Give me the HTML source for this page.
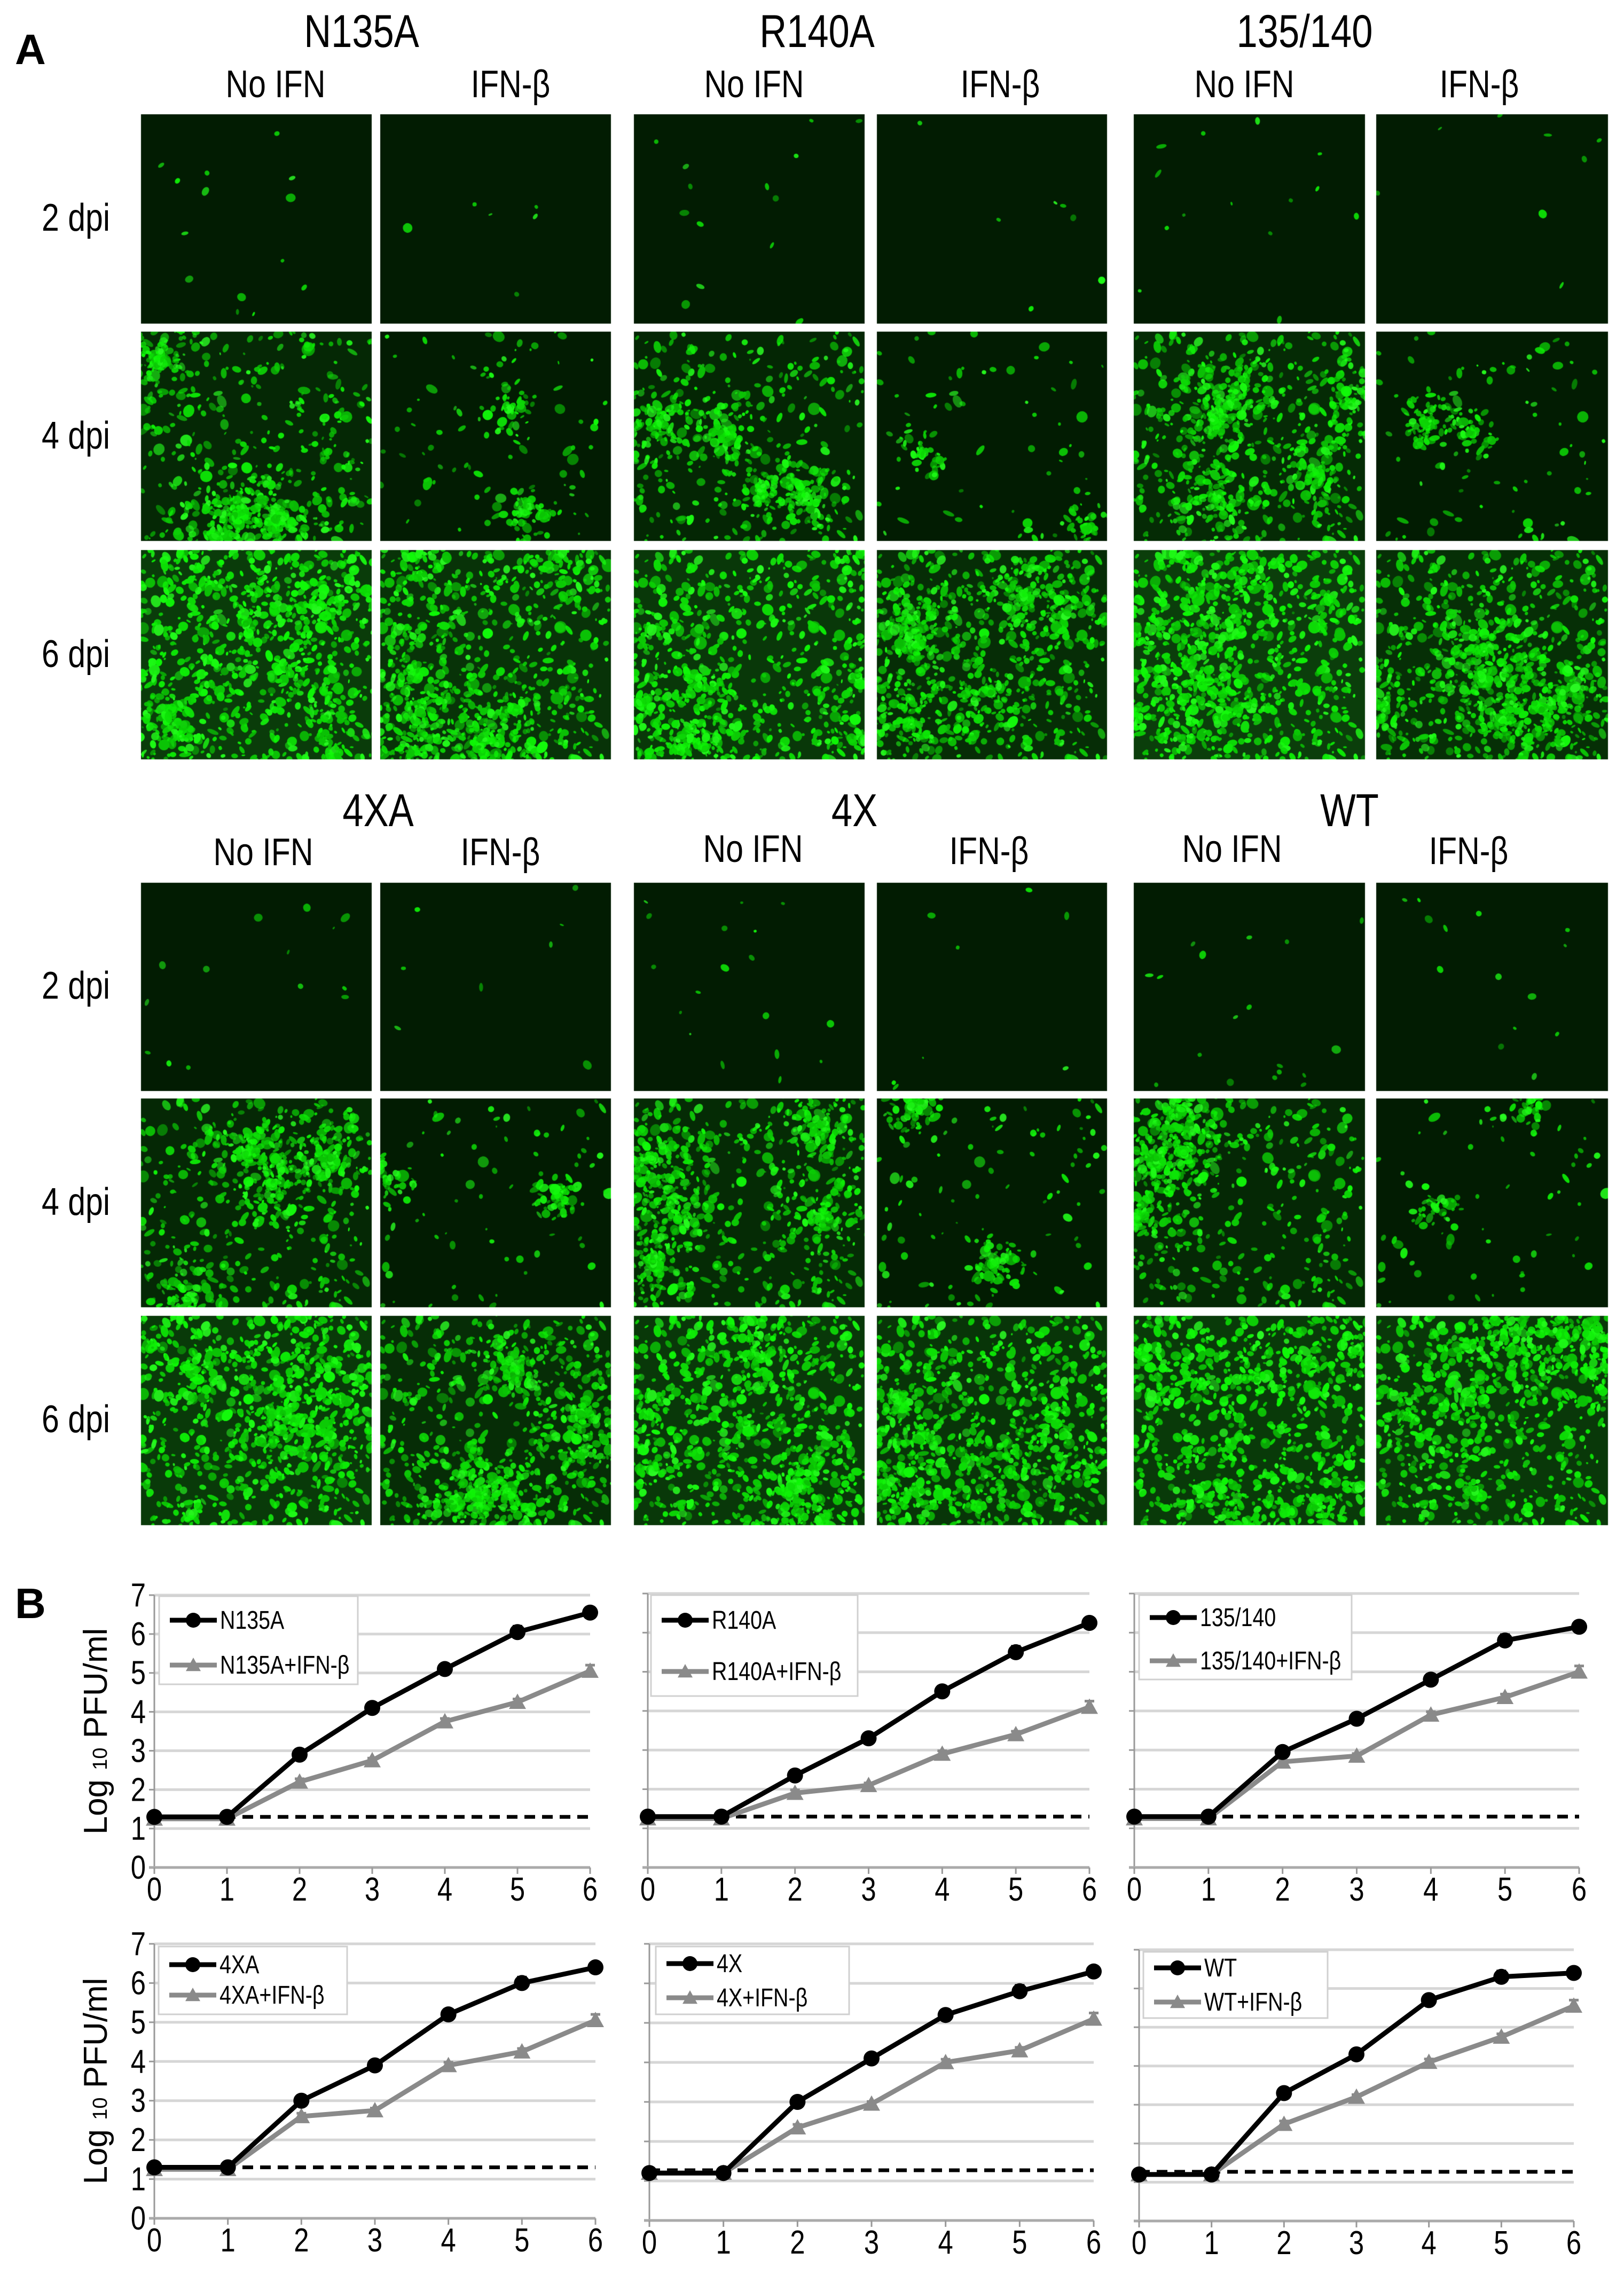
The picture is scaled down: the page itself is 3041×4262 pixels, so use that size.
<!DOCTYPE html>
<html><head><meta charset="utf-8"><style>
html,body{margin:0;padding:0;background:#fff;}
#wrap{position:relative;width:3041px;height:4262px;overflow:hidden;}
canvas,svg{position:absolute;left:0;top:0;}
text{font-family:"Liberation Sans",Arial,sans-serif;}
</style></head><body>
<div id="wrap">
<canvas id="micro" width="3041" height="4262"></canvas>
<svg id="fig" width="3041" height="4262" viewBox="0 0 3041 4262">
<text x="28" y="120" font-size="80" font-weight="bold">A</text>
<text x="28" y="3030" font-size="80" font-weight="bold">B</text>
<g font-size="86" text-anchor="middle">
<text class="nar" x="677" y="88">N135A</text>
<text class="nar" x="1530" y="88">R140A</text>
<text class="nar" x="2443" y="88">135/140</text>
<text class="nar" x="708" y="1547">4XA</text>
<text class="nar" x="1600" y="1547">4X</text>
<text class="nar" x="2527" y="1547">WT</text>
</g>
<g font-size="72" text-anchor="middle">
<text class="nar" x="516" y="182">No IFN</text>
<text class="nar" x="956" y="182">IFN-β</text>
<text class="nar" x="1412" y="182">No IFN</text>
<text class="nar" x="1873" y="182">IFN-β</text>
<text class="nar" x="2330" y="182">No IFN</text>
<text class="nar" x="2770" y="182">IFN-β</text>
<text class="nar" x="493" y="1620">No IFN</text>
<text class="nar" x="937" y="1620">IFN-β</text>
<text class="nar" x="1410" y="1614">No IFN</text>
<text class="nar" x="1852" y="1618">IFN-β</text>
<text class="nar" x="2307" y="1614">No IFN</text>
<text class="nar" x="2750" y="1618">IFN-β</text>
</g>
<g font-size="72">
<text class="nar" x="78" y="432">2 dpi</text>
<text class="nar" x="78" y="840">4 dpi</text>
<text class="nar" x="78" y="1249">6 dpi</text>
<text class="nar" x="78" y="1870">2 dpi</text>
<text class="nar" x="78" y="2275">4 dpi</text>
<text class="nar" x="78" y="2682">6 dpi</text>
</g>
<g id="charts"></g>
</svg>
</div>
<script>
// ---------- Chart data ----------
const days = [0, 1, 2, 3, 4, 5, 6];
const yTicks = [0, 1, 2, 3, 4, 5, 6, 7];
const chartNames = ["N135A", "R140A", "135/140", "4XA", "4X", "WT"];
const noIfnN135A = [1.3, 1.3, 2.9, 4.1, 5.1, 6.05, 6.55];
const ifnN135A   = [1.25, 1.25, 2.2, 2.75, 3.75, 4.25, 5.05];
const noIfnR140A = [1.3, 1.3, 2.35, 3.3, 4.5, 5.5, 6.25];
const ifnR140A   = [1.25, 1.25, 1.9, 2.1, 2.9, 3.4, 4.1];
const noIfn135140 = [1.3, 1.3, 2.95, 3.8, 4.8, 5.8, 6.15];
const ifn135140   = [1.25, 1.25, 2.7, 2.85, 3.9, 4.35, 5.0];
const noIfn4XA = [1.3, 1.3, 3.0, 3.9, 5.2, 6.0, 6.4];
const ifn4XA   = [1.25, 1.25, 2.6, 2.75, 3.9, 4.25, 5.05];
const noIfn4X = [1.2, 1.2, 3.0, 4.1, 5.2, 5.8, 6.3];
const ifn4X   = [1.2, 1.2, 2.35, 2.95, 4.0, 4.3, 5.1];
const noIfnWT = [1.2, 1.2, 3.3, 4.3, 5.7, 6.3, 6.4];
const ifnWT   = [1.2, 1.2, 2.5, 3.2, 4.1, 4.75, 5.55];
const errNoIfn = [0, 0, 0.08, 0.08, 0.1, 0.15, 0.12];
const errIfn   = [0, 0, 0.08, 0.06, 0.08, 0.08, 0.15];
const detectionLimit = [1.3, 1.3, 1.3, 1.3, 1.27, 1.27];

const seriesNoIfn = [noIfnN135A, noIfnR140A, noIfn135140, noIfn4XA, noIfn4X, noIfnWT];
const seriesIfn = [ifnN135A, ifnR140A, ifn135140, ifn4XA, ifn4X, ifnWT];

// geometry (layout only)
const geom = [
  {x0:289,x1:1105,yT:2987,yB:3497,lg:[298,2989,372,165,3034,3118],ylab:true},
  {x0:1213,x1:2040,yT:2984,yB:3497,lg:[1219,2987,387,189,3034,3130],ylab:false},
  {x0:2124,x1:2957,yT:2984,yB:3497,lg:[2133,2987,398,158,3029,3110],ylab:false},
  {x0:289,x1:1115,yT:3640,yB:4154,lg:[297,3645,353,127,3679,3736],ylab:true},
  {x0:1216,x1:2048,yT:3640,yB:4158,lg:[1228,3645,362,127,3677,3741],ylab:false},
  {x0:2133,x1:2947,yT:3651,yB:4159,lg:[2141,3655,345,124,3685,3749],ylab:false}
];

const NS = "http://www.w3.org/2000/svg";
function mk(tag, attrs, parent) {
  const e = document.createElementNS(NS, tag);
  for (const k in attrs) e.setAttribute(k, attrs[k]);
  parent.appendChild(e);
  return e;
}
function narrow(el, f) {
  const x = +el.getAttribute("x"), y = +el.getAttribute("y");
  el.setAttribute("transform", `translate(${x},${y}) scale(${f},1) translate(${-x},${-y})`);
}
document.querySelectorAll("text.nar").forEach(t => narrow(t, 0.82));
const root = document.getElementById("charts");

function tri(g, cx, cy, s, fill) {
  return mk("polygon", {points:`${cx},${cy-s} ${cx+s},${cy+s*0.8} ${cx-s},${cy+s*0.8}`, fill:fill}, g);
}

geom.forEach((G, ci) => {
  const g = mk("g", {}, root);
  
  
  const xs = d => G.x0 + (d - days[0]) / (days[days.length-1] - days[0]) * (G.x1 - G.x0);
  const ys = v => G.yB - (v - yTicks[0]) / (yTicks[yTicks.length-1] - yTicks[0]) * (G.yB - G.yT);
  yTicks.forEach(t => {
    if (t === 0) return;
    const l = mk("line", {x1:G.x0, x2:G.x1, y1:ys(t), y2:ys(t), stroke:"#d6d6d6", "stroke-width":5}, g);
    
    
    const tk = mk("line", {x1:G.x0-10, x2:G.x0, y1:ys(t), y2:ys(t), stroke:"#999", "stroke-width":3}, g);
    
    
  });
  const ya = mk("line", {x1:G.x0, x2:G.x0, y1:G.yT, y2:G.yB, stroke:"#999", "stroke-width":3}, g);
  
  
  const xa = mk("line", {x1:G.x0-10, x2:G.x1, y1:G.yB, y2:G.yB, stroke:"#aaa", "stroke-width":5}, g);
  
  
  days.forEach(d => {
    const t = mk("line", {x1:xs(d), x2:xs(d), y1:G.yB, y2:G.yB+12, stroke:"#999", "stroke-width":3}, g);
    
    
    const lab = mk("text", {x:xs(d), y:G.yB+62, "font-size":62, "text-anchor":"middle"}, g);
    lab.textContent = String(d);
    narrow(lab, 0.82);
    
    
  });
  if (G.ylab) {
    yTicks.forEach(t => {
      const lab = mk("text", {x:G.x0-16, y:ys(t)+21, "font-size":62, "text-anchor":"end"}, g);
      lab.textContent = String(t);
      narrow(lab, 0.82);
      
      
    });
    const cy = (G.yT + G.yB) / 2;
    const tt = mk("text", {x:0, y:0, "font-size":62, "text-anchor":"middle", transform:`translate(200,${cy}) rotate(-90)`}, g);
    
    
    tt.innerHTML = 'Log <tspan font-size="38">10</tspan> PFU/ml';
  }
  const dl = mk("line", {x1:G.x0, x2:G.x1, y1:ys(detectionLimit[ci]), y2:ys(detectionLimit[ci]), stroke:"#000", "stroke-width":7, "stroke-dasharray":"20 13"}, g);
  
  
  const drawSeries = (vals, errs, color, marker, name) => {
    const sg = mk("g", {}, g);
    
    
    const pl = mk("polyline", {points: vals.map((v,i)=>`${xs(days[i])},${ys(v)}`).join(" "), fill:"none", stroke:color, "stroke-width":9, "stroke-linejoin":"round"}, sg);
    
    
    vals.forEach((v,i) => {
      if (errs[i] > 0) {
        const eb = mk("path", {d:`M${xs(days[i])},${ys(v)} V${ys(v+errs[i])} M${xs(days[i])-9},${ys(v+errs[i])} H${xs(days[i])+9}`, stroke:color, "stroke-width":5, fill:"none"}, sg);
        
        
      }
      const m = marker === "circle"
        ? mk("circle", {cx:xs(days[i]), cy:ys(v), r:15, fill:color}, sg)
        : tri(sg, xs(days[i]), ys(v), 16, color);
      
      
    });
  };
  drawSeries(seriesIfn[ci], errIfn, "#8a8a8a", "tri", "series-ifn-beta");
  drawSeries(seriesNoIfn[ci], errNoIfn, "#000", "circle", "series-no-ifn");
  const [bx, by, bw, bh, e1, e2] = G.lg;
  const lgg = mk("g", {}, g);
  
  
  mk("rect", {x:bx, y:by, width:bw, height:bh, fill:"#fff", stroke:"#d0d0d0", "stroke-width":3}, lgg);
  [[e1, "#000", "circle", chartNames[ci]], [e2, "#8a8a8a", "tri", chartNames[ci] + "+IFN-β"]].forEach(([ey, c, mkType, label]) => {
    const eg = mk("g", {}, lgg);
    
    
    mk("line", {x1:bx+20, x2:bx+108, y1:ey, y2:ey, stroke:c, "stroke-width":9}, eg);
    if (mkType === "circle") mk("circle", {cx:bx+64, cy:ey, r:14, fill:c}, eg);
    else tri(eg, bx+64, ey, 14, c);
    const t = mk("text", {x:bx+114, y:ey+16, "font-size":48}, eg);
    t.textContent = label;
    narrow(t, 0.82);
  });
});

// ---------- Micrograph panels (texture) ----------
const cv = document.getElementById("micro");
const ctx = cv.getContext("2d");
const colsX = [[264,696],[712,1144],[1187,1619],[1642,2073],[2123,2556],[2577,3011]];
const rowsTop = [[214,606],[621,1013],[1030,1422]];
const rowsBot = [[1653,2043],[2057,2448],[2464,2856]];
const densTop = [[0.02,0.008,0.02,0.01,0.02,0.012],[0.3,0.08,0.25,0.06,0.35,0.08],[0.75,0.55,0.65,0.4,0.8,0.45]];
const densBot = [[0.02,0.012,0.025,0.012,0.025,0.02],[0.3,0.07,0.35,0.1,0.3,0.06],[0.7,0.4,0.65,0.6,0.7,0.65]];
let seed = 12345;
function rnd(){ seed = (seed * 1103515245 + 12345) % 2147483648; return seed / 2147483648; }
function blob(cx,cy,r){
  const l = 38 + rnd()*18;
  ctx.fillStyle = `hsla(118,95%,${l}%,${0.5+rnd()*0.5})`;
  ctx.beginPath();
  ctx.ellipse(cx,cy,r*(0.5+rnd()),r*(0.5+rnd()),rnd()*3.14,0,6.283);
  ctx.fill();
}
function panel(x0,y0,x1,y1,d){
  const w=x1-x0,h=y1-y0;
  ctx.fillStyle = "#021c02";
  ctx.fillRect(x0,y0,w,h);
  ctx.save();
  ctx.beginPath(); ctx.rect(x0,y0,w,h); ctx.clip();
  if (d > 0.2) {
    ctx.fillStyle = `rgba(20,100,20,${Math.min(0.7,d*0.6)})`;
    ctx.fillRect(x0,y0,w,h);
  }
  if (d < 0.05) {
    const n = Math.round(d*700);
    for (let i=0;i<n;i++) blob(x0+rnd()*w, y0+rnd()*h, 3+rnd()*4);
  } else {
    // clustered foci
    const nc = Math.max(2, Math.round(d*14));
    const n = Math.round(d*2600);
    const cs = [];
    for (let k=0;k<nc;k++) cs.push([x0+rnd()*w, y0+rnd()*h]);
    for (let i=0;i<n;i++){
      let cx, cy;
      if (rnd() < 0.6) {
        const c = cs[Math.floor(rnd()*nc)];
        const a = rnd()*6.283, r = Math.pow(rnd(),1.3)*(40 + d*180);
        cx = c[0]+Math.cos(a)*r; cy = c[1]+Math.sin(a)*r;
      } else { cx = x0+rnd()*w; cy = y0+rnd()*h; }
      blob(cx, cy, 2.5+rnd()*6);
    }
  }
  ctx.restore();
}
rowsTop.forEach((r,ri)=>colsX.forEach((c,ci)=>panel(c[0],r[0],c[1],r[1],densTop[ri][ci])));
rowsBot.forEach((r,ri)=>colsX.forEach((c,ci)=>panel(c[0],r[0],c[1],r[1],densBot[ri][ci])));
</script>
</body></html>
